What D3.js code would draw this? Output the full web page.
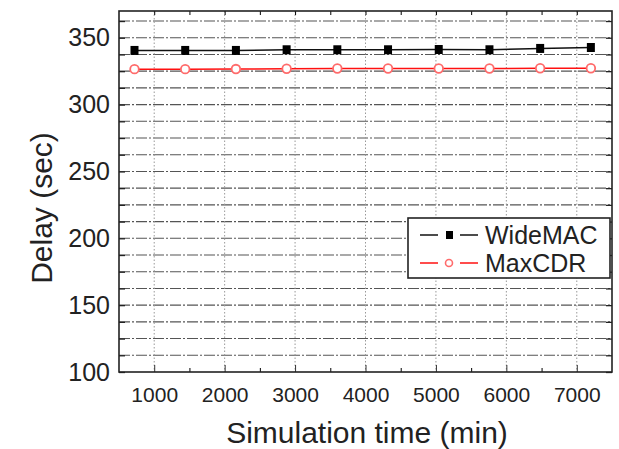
<!DOCTYPE html>
<html>
<head>
<meta charset="utf-8">
<script src="https://cdn.jsdelivr.net/npm/d3@7"></script>
<style>
  html, body { margin: 0; padding: 0; background: #fff; }
  svg { display: block; font-family: "Liberation Sans", Arial, sans-serif; }
</style>
</head>
<body>
<svg id="chart" width="619" height="449"></svg>
<script>
// ---- data ----
const simTimes = [720, 1440, 2160, 2880, 3600, 4320, 5040, 5760, 6480, 7200];
const wideMAC  = [340.5, 340.5, 340.5, 341, 341, 341, 341.2, 341, 342, 342.7];
const maxCDR   = [326.5, 326.5, 326.6, 326.8, 327, 327, 327, 327, 327.2, 327.2];
const xTicks   = [1000, 2000, 3000, 4000, 5000, 6000, 7000];
const xMinor   = [1500, 2500, 3500, 4500, 5500, 6500];
const yTicks   = [100, 150, 200, 250, 300, 350];
const yGrid    = d3.range(100, 370.1, 12.5);
const seriesNames = ["WideMAC", "MaxCDR"];

const svg = d3.select("#chart");
const L = 119, R = 612, T = 11, B = 372;
const x = d3.scaleLinear().domain([500, 7500]).range([L, R]);
const y = d3.scaleLinear().domain([100, 370]).range([B, T]);

// horizontal grid (dash-dot)
svg.append("g").selectAll("line").data(yGrid.filter(v => v > 100)).join("line")
  .attr("x1", L).attr("x2", R).attr("y1", d => y(d)).attr("y2", d => y(d))
  .attr("stroke", "#555").attr("stroke-width", 1.1).attr("stroke-dasharray", "11,2,2,2");

// vertical grid (dotted)
svg.append("g").selectAll("line").data(xTicks).join("line")
  .attr("x1", d => x(d)).attr("x2", d => x(d)).attr("y1", T).attr("y2", B)
  .attr("stroke", "#999").attr("stroke-width", 1).attr("stroke-dasharray", "1.5,2");

// axes (inward ticks)
const axB = d3.axisBottom(x).tickValues(xTicks).tickSize(-7).tickPadding(15).tickFormat(d3.format("d"));
const gB = svg.append("g").attr("transform", `translate(0,${B})`).call(axB);
gB.select(".domain").remove();
gB.selectAll("text").attr("font-size", 21).attr("fill", "#222").attr("font-family", "Liberation Sans, Arial, sans-serif");
gB.selectAll("line").attr("stroke", "#333");
const gBm = svg.append("g").attr("transform", `translate(0,${B})`)
  .call(d3.axisBottom(x).tickValues(xMinor).tickSize(-4).tickFormat(""));
gBm.select(".domain").remove();

const gT = svg.append("g").attr("transform", `translate(0,${T})`)
  .call(d3.axisTop(x).tickValues(xTicks.concat(xMinor)).tickSize(-4).tickFormat(""));
gT.select(".domain").remove();

const axL = d3.axisLeft(y).tickValues(yGrid).tickSize(-6).tickPadding(9)
  .tickFormat(d => yTicks.includes(d) ? d3.format("d")(d) : "");
const gL = svg.append("g").attr("transform", `translate(${L},0)`).call(axL);
gL.select(".domain").remove();
gL.selectAll("text").attr("font-size", 25).attr("fill", "#222").attr("font-family", "Liberation Sans, Arial, sans-serif");
gL.selectAll("line").attr("stroke", "#222").attr("stroke-width", 1.3);

const gR = svg.append("g").attr("transform", `translate(${R},0)`)
  .call(d3.axisRight(y).tickValues(yGrid).tickSize(-6).tickFormat(""));
gR.select(".domain").remove();
gR.selectAll("line").attr("stroke", "#222").attr("stroke-width", 1.3);

// frame
svg.append("rect").attr("x", L).attr("y", T).attr("width", R - L).attr("height", B - T)
  .attr("fill", "none").attr("stroke", "#222").attr("stroke-width", 1.6);

// series
const line = d3.line().x(d => x(d[0])).y(d => y(d[1]));
const blackData = simTimes.map((t, i) => [t, wideMAC[i]]);
const redData = simTimes.map((t, i) => [t, maxCDR[i]]);

svg.append("path").datum(blackData).attr("d", line)
  .attr("fill", "none").attr("stroke", "#111").attr("stroke-width", 1.5);
svg.append("path").datum(redData).attr("d", line)
  .attr("fill", "none").attr("stroke", "#ff1010").attr("stroke-width", 1.5);

svg.append("g").selectAll("rect").data(blackData).join("rect")
  .attr("x", d => x(d[0]) - 4).attr("y", d => y(d[1]) - 4.5)
  .attr("width", 8).attr("height", 9).attr("fill", "#000");
svg.append("g").selectAll("circle").data(redData).join("circle")
  .attr("cx", d => x(d[0])).attr("cy", d => y(d[1])).attr("r", 4.3)
  .attr("fill", "#fff").attr("stroke", "#ff6b6b").attr("stroke-width", 1.8);

// legend
const lg = svg.append("g");
lg.append("rect").attr("x", 408).attr("y", 218).attr("width", 202).attr("height", 60)
  .attr("fill", "#fff").attr("stroke", "#222").attr("stroke-width", 1.6);
const rows = [235, 263];
seriesNames.forEach((name, i) => {
  const cy = rows[i];
  const col = i === 0 ? "#111" : "#ff1010";
  lg.append("line").attr("x1", 420).attr("x2", 438).attr("y1", cy).attr("y2", cy).attr("stroke", col).attr("stroke-width", 1.5);
  lg.append("line").attr("x1", 460).attr("x2", 478).attr("y1", cy).attr("y2", cy).attr("stroke", col).attr("stroke-width", 1.5);
  if (i === 0) {
    lg.append("rect").attr("x", 446).attr("y", cy - 4).attr("width", 7).attr("height", 8).attr("fill", "#000");
  } else {
    lg.append("circle").attr("cx", 449).attr("cy", cy).attr("r", 3.5)
      .attr("fill", "#fff").attr("stroke", "#ff6b6b").attr("stroke-width", 1.6);
  }
  lg.append("text").attr("x", 485).attr("y", cy + 9).attr("font-size", 25).attr("fill", "#222").text(name);
});

// axis titles
svg.append("text").attr("x", 367).attr("y", 443).attr("text-anchor", "middle")
  .attr("font-size", 30).attr("fill", "#222").text("Simulation time (min)");
svg.append("text").attr("transform", "translate(52,208) rotate(-90)").attr("text-anchor", "middle")
  .attr("font-size", 30).attr("fill", "#222").text("Delay (sec)");
</script>
</body>
</html>
